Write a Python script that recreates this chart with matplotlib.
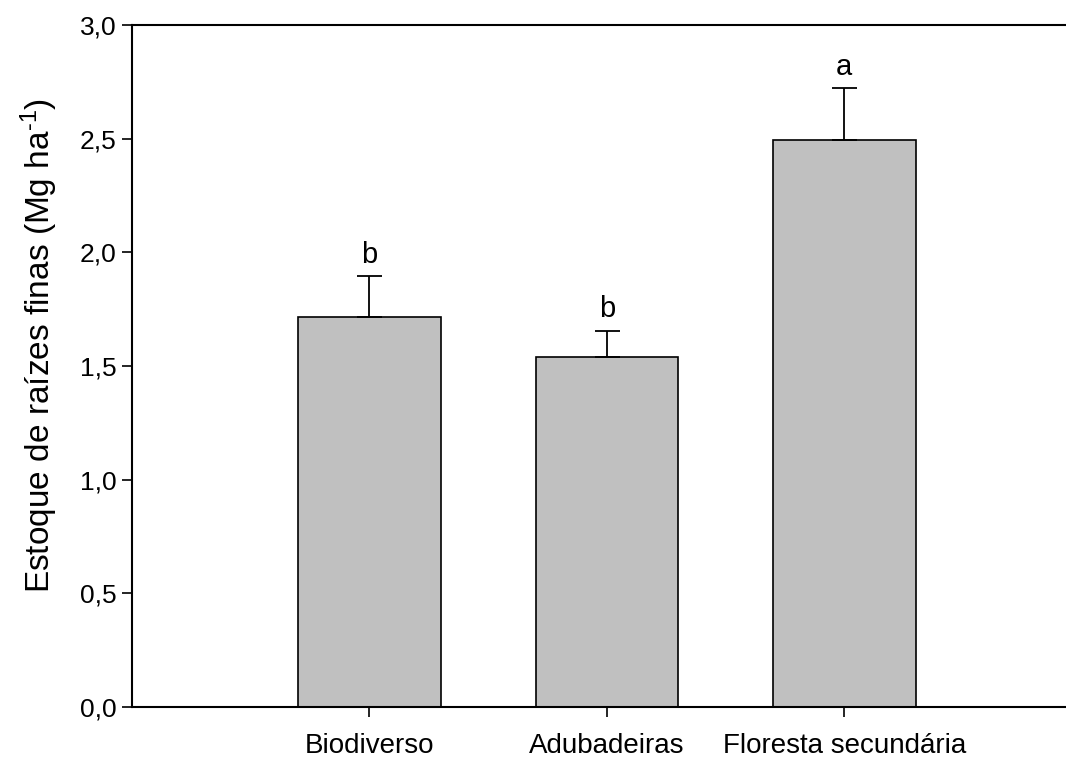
import matplotlib
matplotlib.use("Agg")
import matplotlib.pyplot as plt

plt.rcParams['font.family'] = ['Liberation Sans', 'DejaVu Sans']
plt.rcParams['mathtext.fontset'] = 'custom'
plt.rcParams['mathtext.rm'] = 'Liberation Sans'
plt.rcParams['mathtext.it'] = 'Liberation Sans'
plt.rcParams['mathtext.default'] = 'regular'

# Fine root stock per land-use system
categories = ["Biodiverso", "Adubadeiras", "Floresta secundária"]
means = [1.714, 1.538, 2.494]
errors = [0.181, 0.117, 0.228]
letters = ["b", "b", "a"]
yticks = [0.0, 0.5, 1.0, 1.5, 2.0, 2.5, 3.0]

fig = plt.figure(figsize=(10.66, 7.58), dpi=100)
ax = fig.add_axes([0.1238, 0.0673, 0.891, 0.8997])

x = [1, 2, 3]
ax.bar(x, means, width=0.6, color="#c0c0c0", edgecolor="black", linewidth=1.2, zorder=2)
ax.errorbar(x, means, yerr=[[0] * len(errors), errors], fmt="none",
            ecolor="black", elinewidth=1.3, capsize=9, capthick=1.3, zorder=3)

for xi, m, e, lab in zip(x, means, errors, letters):
    ax.text(xi, m + e + 0.06, lab, ha="center", va="baseline", fontsize=21)

ax.set_xlim(0, 4)
ax.set_ylim(0, 3.0)
ax.set_xticks(x)
ax.set_xticklabels(categories, fontsize=20)
ax.set_yticks(yticks)
ax.set_yticklabels([f"{v:.1f}".replace(".", ",") for v in yticks], fontsize=19)
ax.tick_params(axis="both", direction="out", length=7, width=1.2, pad=4)
ax.tick_params(axis="x", pad=12)

ax.spines["right"].set_visible(False)
for s in ["left", "bottom", "top"]:
    ax.spines[s].set_linewidth(1.5)

ax.set_ylabel(r"Estoque de raízes finas (Mg ha$^{\text{-1}}$)", fontsize=24)
ax.yaxis.set_label_coords(-0.076, 0.53)

fig.savefig("out.png", dpi=100)
